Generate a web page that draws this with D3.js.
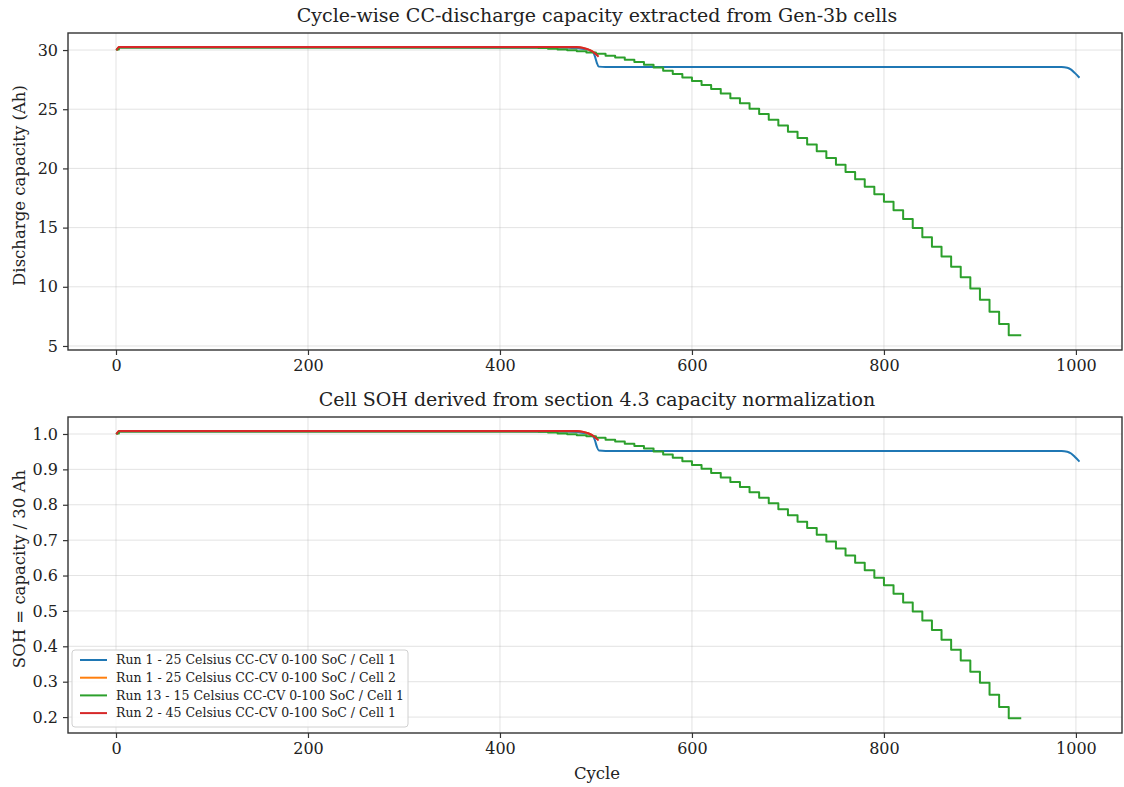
<!DOCTYPE html>
<html>
<head>
<meta charset="utf-8">
<script src="https://cdn.jsdelivr.net/npm/d3@7"></script>
<style>
  html, body { margin: 0; padding: 0; background: #fff; }
  svg { display: block; font-family: "DejaVu Serif", serif; }
</style>
</head>
<body>
<svg id="chart" width="1124" height="787"></svg>
<script>
// ---- data: discharge capacity per cycle (Ah) ----
const seriesNames = [
  "Run 1 - 25 Celsius CC-CV 0-100 SoC / Cell 1",
  "Run 1 - 25 Celsius CC-CV 0-100 SoC / Cell 2",
  "Run 13 - 15 Celsius CC-CV 0-100 SoC / Cell 1",
  "Run 2 - 45 Celsius CC-CV 0-100 SoC / Cell 1"
];
const seriesColors = ["#1f77b4", "#ff7f0e", "#2ca02c", "#d62728"];

// Run 1 / Cell 1
const run1cell1Cycles = [1, 3, 470, 480, 488, 494, 497, 499, 501, 503, 510, 985, 991, 995, 999, 1003];
const run1cell1Cap    = [30.05, 30.22, 30.2, 30.16, 30.08, 29.95, 29.8, 29.45, 28.9, 28.6, 28.56, 28.56, 28.5, 28.35, 28.05, 27.72];

// Run 1 / Cell 2
const run1cell2Cycles = [1, 3, 482, 490, 496, 501];
const run1cell2Cap    = [30.05, 30.24, 30.23, 30.1, 29.9, 29.6];

// Run 13 / Cell 1 (stepped fade, one value per 10-cycle block)
const run13Cycles = [1, 3, 430, 440, 450, 460, 470, 480, 490, 500, 510, 520, 530, 540, 550, 560, 570, 580, 590,
  600, 610, 620, 630, 640, 650, 660, 670, 680, 690, 700, 710, 720, 730, 740, 750, 760, 770, 780, 790,
  800, 810, 820, 830, 840, 850, 860, 870, 880, 890, 900, 910, 920, 930, 942];
const run13Cap = [30.05, 30.22, 30.22, 30.18, 30.12, 30.05, 29.98, 29.9, 29.8, 29.68, 29.52, 29.36, 29.18, 28.98, 28.76, 28.52, 28.26, 27.98, 27.68,
  27.38, 27.05, 26.7, 26.32, 25.92, 25.5, 25.05, 24.6, 24.12, 23.62, 23.1, 22.57, 22.02, 21.46, 20.89, 20.3, 19.7, 19.08, 18.45, 17.82,
  17.18, 16.46, 15.72, 14.96, 14.18, 13.38, 12.55, 11.7, 10.8, 9.85, 8.9, 7.9, 6.85, 5.9, 5.9];

// Run 2 / Cell 1
const run2Cycles = [1, 3, 480, 487, 492, 496, 499, 502];
const run2Cap    = [30.05, 30.26, 30.25, 30.18, 30.06, 29.9, 29.72, 29.5];

const nominalCapacity = 30; // Ah, used for SOH normalisation

const xTicks = [0, 200, 400, 600, 800, 1000];
const capTicks = [5, 10, 15, 20, 25, 30];
const sohTicks = [0.2, 0.3, 0.4, 0.5, 0.6, 0.7, 0.8, 0.9, 1.0];

const series = [
  { cycles: run1cell1Cycles, cap: run1cell1Cap, curve: d3.curveMonotoneX },
  { cycles: run1cell2Cycles, cap: run1cell2Cap, curve: d3.curveMonotoneX },
  { cycles: run13Cycles,     cap: run13Cap,     curve: d3.curveStepAfter },
  { cycles: run2Cycles,      cap: run2Cap,      curve: d3.curveMonotoneX }
].map((s, i) => ({
  ...s,
  name: seriesNames[i],
  color: seriesColors[i],
  points: s.cycles.map((c, j) => ({ c, v: s.cap[j] }))
}));

// ---- layout ----
const svg = d3.select("#chart");
const L = 68, R = 1122;
const panels = [
  { top: 33,  bottom: 350, domain: [4.66, 31.44], ticks: capTicks, fmt: d3.format("d"),
    value: v => v, title: "Cycle-wise CC-discharge capacity extracted from Gen-3b cells",
    ylabel: "Discharge capacity (Ah)", xlabel: null, legend: false },
  { top: 417, bottom: 733, domain: [0.155, 1.048], ticks: sohTicks, fmt: d3.format(".1f"),
    value: v => v / nominalCapacity, title: "Cell SOH derived from section 4.3 capacity normalization",
    ylabel: "SOH = capacity / 30 Ah", xlabel: "Cycle", legend: true }
];

const x = d3.scaleLinear().domain([-50, 1048]).range([L, R]);

panels.forEach((p, pi) => {
  const y = d3.scaleLinear().domain(p.domain).range([p.bottom, p.top]);
  const g = svg.append("g");
  const clipId = "clip" + pi;
  svg.append("clipPath").attr("id", clipId)
    .append("rect").attr("x", L).attr("y", p.top).attr("width", R - L).attr("height", p.bottom - p.top);

  // grid
  g.append("g").selectAll("line").data(xTicks).join("line")
    .attr("x1", d => x(d)).attr("x2", d => x(d))
    .attr("y1", p.top).attr("y2", p.bottom)
    .attr("stroke", "#b0b0b0").attr("stroke-opacity", 0.35).attr("stroke-width", 1);
  g.append("g").selectAll("line").data(p.ticks).join("line")
    .attr("x1", L).attr("x2", R)
    .attr("y1", d => y(d)).attr("y2", d => y(d))
    .attr("stroke", "#b0b0b0").attr("stroke-opacity", 0.35).attr("stroke-width", 1);

  // lines
  const lines = g.append("g").attr("clip-path", `url(#${clipId})`);
  series.forEach(s => {
    const line = d3.line().x(d => x(d.c)).y(d => y(p.value(d.v))).curve(s.curve);
    lines.append("path").datum(s.points)
      .attr("d", line).attr("fill", "none")
      .attr("stroke", s.color).attr("stroke-width", 2)
      .attr("stroke-linejoin", "round").attr("stroke-linecap", "square");
  });

  // axes
  const xAxis = g.append("g").attr("transform", `translate(0,${p.bottom})`)
    .call(d3.axisBottom(x).tickValues(xTicks).tickFormat(d3.format("d")).tickSizeOuter(0).tickSize(5).tickPadding(5));
  const yAxis = g.append("g").attr("transform", `translate(${L},0)`)
    .call(d3.axisLeft(y).tickValues(p.ticks).tickFormat(p.fmt).tickSizeOuter(0).tickSize(5).tickPadding(5));
  [xAxis, yAxis].forEach(a => {
    a.select(".domain").remove();
    a.selectAll("line").attr("stroke", "#333").attr("stroke-width", 1.2);
    a.selectAll("text").attr("fill", "#222").style("font-size", "16px")
      .style("font-family", "'DejaVu Serif', serif");
  });

  // frame
  g.append("rect").attr("x", L).attr("y", p.top)
    .attr("width", R - L).attr("height", p.bottom - p.top)
    .attr("fill", "none").attr("stroke", "#333").attr("stroke-width", 1.4);

  // title
  g.append("text").attr("x", (L + R) / 2 + 2).attr("y", p.top - 11)
    .attr("text-anchor", "middle").attr("fill", "#222")
    .style("font-size", "19px").text(p.title);

  // y label
  g.append("text")
    .attr("transform", `translate(25,${(p.top + p.bottom) / 2 - 6}) rotate(-90)`)
    .attr("text-anchor", "middle").attr("fill", "#222")
    .style("font-size", "16.5px").text(p.ylabel);

  if (p.xlabel) {
    g.append("text").attr("x", (L + R) / 2 + 2).attr("y", p.bottom + 46)
      .attr("text-anchor", "middle").attr("fill", "#222")
      .style("font-size", "16.5px").text(p.xlabel);
  }

  if (p.legend) {
    const lg = g.append("g").attr("transform", `translate(${L + 4},${p.bottom - 83})`);
    lg.append("rect").attr("width", 336).attr("height", 77).attr("rx", 3)
      .attr("fill", "#fff").attr("fill-opacity", 0.85)
      .attr("stroke", "#d0d0d0").attr("stroke-width", 1);
    series.forEach((s, i) => {
      const yy = 10 + i * 17.7;
      lg.append("line").attr("x1", 8).attr("x2", 35).attr("y1", yy).attr("y2", yy)
        .attr("stroke", s.color).attr("stroke-width", 2);
      lg.append("text").attr("x", 44).attr("y", yy).attr("dy", "0.35em")
        .attr("fill", "#222").style("font-size", "12.5px").text(s.name);
    });
  }
});
</script>
</body>
</html>
